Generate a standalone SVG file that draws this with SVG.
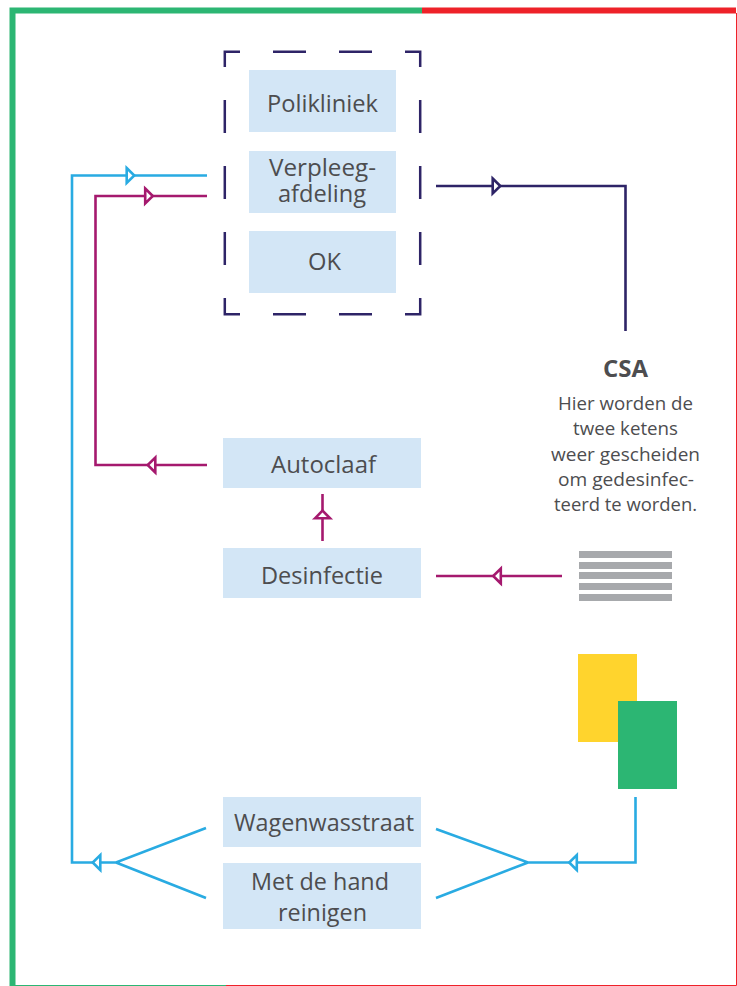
<svg xmlns="http://www.w3.org/2000/svg" width="737" height="986" viewBox="0 0 737 986">
<style>
.box{fill:#d3e6f6}
text{font-family:"Open Sans","Noto Sans","Liberation Sans",sans-serif;fill:#4d4d4f;text-anchor:middle}
.l{font-size:24px}
.s{font-size:17.5px}
.c{fill:none;stroke-width:2.6}
.blue{stroke:#29abe2}
.mag{stroke:#a5196e}
.navy{stroke:#2e2467}
.tri{fill:#fff;stroke-width:2.6;stroke-linejoin:miter}
.g{fill:#a7a9ac}
</style>
<defs><path id="tri" d="M-3.8-7.5 3.8 0-3.8 7.5Z"/></defs>
<rect width="737" height="986" fill="#fff"/>
<g id="frame">
<path d="M422 10.5H12.5V986" fill="none" stroke="#2cb673" stroke-width="6"/>
<path d="M422 10.5H736" fill="none" stroke="#ee2229" stroke-width="6"/>
<path d="M736.5 13V985.5H226" fill="none" stroke="#ee2229" stroke-width="1"/>
<path d="M226 985.5H15" fill="none" stroke="#2cb673" stroke-width="1"/>
</g>
<g id="group-frame"><path d="M224.8 67V51.8H240M273 51.8H306M339 51.8H372M405 51.8H420.2V67M420.2 100V133M420.2 166V199M420.2 232V265M420.2 298V314.2H405M372 314.2H339M306 314.2H273M240 314.2H224.8V298M224.8 265V232M224.8 199V166M224.8 133V100" fill="none" stroke="#2e2467" stroke-width="2.5"/></g>
<g id="polikliniek"><rect class="box" x="249" y="70" width="147" height="62"/><text class="l" x="322.5" y="112" textLength="111" lengthAdjust="spacingAndGlyphs">Polikliniek</text></g>
<g id="verpleegafdeling"><rect class="box" x="249" y="151" width="147" height="62"/><text class="l" x="322.5" y="175.5" textLength="107" lengthAdjust="spacingAndGlyphs">Verpleeg-</text><text class="l" x="322" y="202" textLength="88" lengthAdjust="spacingAndGlyphs">afdeling</text></g>
<g id="ok"><rect class="box" x="249" y="231" width="147" height="62"/><text class="l" x="324.5" y="270" textLength="33" lengthAdjust="spacingAndGlyphs">OK</text></g>
<g id="autoclaaf"><rect class="box" x="223" y="438" width="198" height="50"/><text class="l" x="323.5" y="473" textLength="105" lengthAdjust="spacingAndGlyphs">Autoclaaf</text></g>
<g id="desinfectie"><rect class="box" x="223" y="548" width="198" height="50"/><text class="l" x="322" y="584" textLength="122" lengthAdjust="spacingAndGlyphs">Desinfectie</text></g>
<g id="wagenwasstraat"><rect class="box" x="223" y="797" width="198" height="50"/><text class="l" x="324" y="831" textLength="180" lengthAdjust="spacingAndGlyphs">Wagenwasstraat</text></g>
<g id="met-de-hand"><rect class="box" x="223" y="863" width="198" height="66"/><text class="l" x="320" y="890" textLength="138" lengthAdjust="spacingAndGlyphs">Met de hand</text><text class="l" x="322.5" y="921" textLength="89" lengthAdjust="spacingAndGlyphs">reinigen</text></g>
<g id="csa">
<text x="625.5" y="377" font-size="23.5" font-weight="700" textLength="45" lengthAdjust="spacingAndGlyphs">CSA</text>
<text class="s" x="625.5" y="410" textLength="135" lengthAdjust="spacingAndGlyphs">Hier worden de</text>
<text class="s" x="625.5" y="435" textLength="105" lengthAdjust="spacingAndGlyphs">twee ketens</text>
<text class="s" x="625.5" y="460.5" textLength="149" lengthAdjust="spacingAndGlyphs">weer gescheiden</text>
<text class="s" x="626" y="486" textLength="136" lengthAdjust="spacingAndGlyphs">om gedesinfec-</text>
<text class="s" x="625.5" y="511" textLength="143" lengthAdjust="spacingAndGlyphs">teerd te worden.</text>
</g>
<g id="linen-stack">
<rect class="g" x="579" y="551" width="93" height="7"/>
<rect class="g" x="579" y="562" width="93" height="7"/>
<rect class="g" x="579" y="572" width="93" height="7"/>
<rect class="g" x="579" y="583" width="93" height="7"/>
<rect class="g" x="579" y="594" width="93" height="7"/>
</g>
<g id="carts">
<rect x="578" y="654" width="59" height="88" fill="#ffd42d"/>
<rect x="618" y="701" width="59" height="88" fill="#2cb673"/>
</g>
<g id="connectors">
<path class="c blue" d="M207 175.5H72V862.5H116L206 828M116 862.5 206 898"/>
<path class="c mag" d="M207 196H95.5V465H207"/>
<path class="c mag" d="M322.5 541V494"/>
<path class="c mag" d="M562 576H436"/>
<path class="c navy" d="M436 186H625.5V331"/>
<path class="c blue" d="M635.5 797V862.5H528L436 829M528 862.5 436 898"/>
<use href="#tri" class="tri blue" transform="translate(130.5 175.5)"/>
<use href="#tri" class="tri mag" transform="translate(149 196)"/>
<use href="#tri" class="tri mag" transform="translate(151.5 465) rotate(180)"/>
<use href="#tri" class="tri mag" transform="translate(322.5 514.5) rotate(-90)"/>
<use href="#tri" class="tri mag" transform="translate(497 576) rotate(180)"/>
<use href="#tri" class="tri navy" transform="translate(496.5 186)"/>
<use href="#tri" class="tri blue" transform="translate(573 862.5) rotate(180)"/>
<use href="#tri" class="tri blue" transform="translate(96.5 862.5) rotate(180)"/>
</g>
</svg>
